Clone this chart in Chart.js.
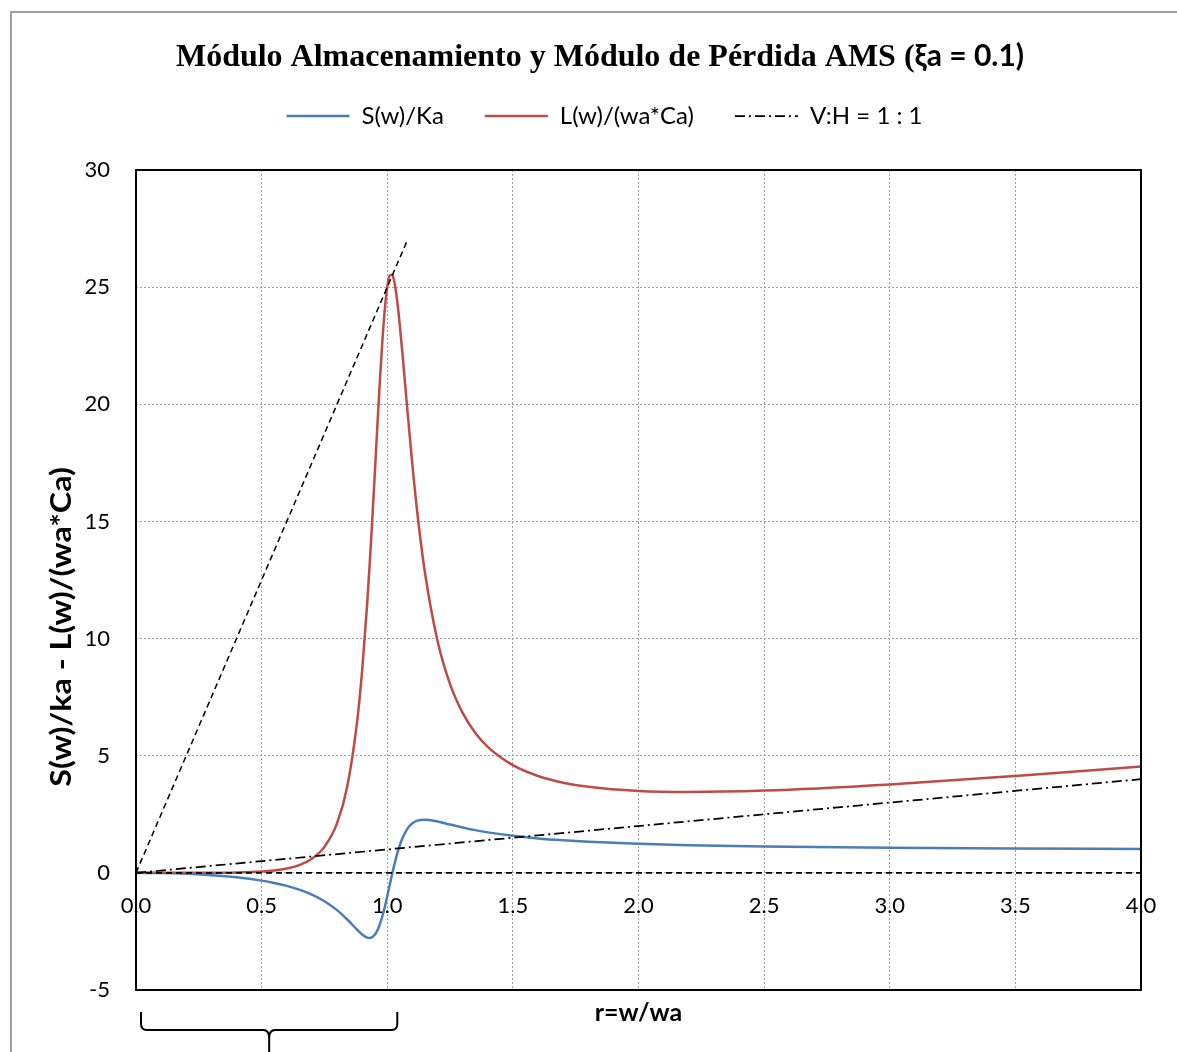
<!DOCTYPE html>
<html>
<head>
<meta charset="utf-8">
<script src="https://cdn.jsdelivr.net/npm/chart.js@4.4.1/dist/chart.umd.min.js"></script>
<style>
  html, body { margin: 0; padding: 0; background: #ffffff; }
  #wrap { width: 1177px; height: 1052px; }
</style>
</head>
<body>
<div id="wrap"><canvas id="chart" width="1177" height="1052"></canvas></div>
<script>
// Frequency ratio r = w/wa
const rValues = [0, 0.1, 0.2, 0.3, 0.4, 0.5, 0.55, 0.6, 0.65, 0.7, 0.75, 0.8, 0.84, 0.88, 0.9,
  0.92, 0.93, 0.94, 0.95, 0.96, 0.97, 0.98, 0.99, 1.0, 1.01, 1.02, 1.03, 1.04, 1.05, 1.06,
  1.08, 1.1, 1.12, 1.15, 1.2, 1.25, 1.3, 1.35, 1.4, 1.5, 1.6, 1.7, 1.8, 2.0, 2.2, 2.5, 3.0, 3.5, 4.0];

// Storage modulus S(w)/Ka
const storageValues = [0, -0.010, -0.042, -0.099, -0.190, -0.332, -0.431, -0.556, -0.717, -0.928, -1.210, -1.590, -1.981, -2.427, -2.630,
  -2.762, -2.777, -2.742, -2.644, -2.470, -2.213, -1.874, -1.463, -1.000, -0.512, -0.029, 0.424, 0.831, 1.179, 1.468,
  1.879, 2.114, 2.230, 2.272, 2.192, 2.062, 1.935, 1.823, 1.728, 1.579, 1.471, 1.391, 1.328, 1.240, 1.181, 1.124, 1.068, 1.037, 1.018];

// Loss modulus L(w)/(wa*Ca)
const lossValues = [0, 0.000, 0.000, 0.003, 0.014, 0.055, 0.101, 0.183, 0.331, 0.601, 1.109, 2.111, 3.640, 6.446, 8.620,
  11.473, 13.164, 15.010, 16.967, 18.957, 20.879, 22.607, 24.015, 25.000, 25.505, 25.529, 25.122, 24.371, 23.373, 22.222,
  19.764, 17.411, 15.339, 12.818, 9.906, 8.054, 6.829, 5.983, 5.378, 4.595, 4.135, 3.850, 3.671, 3.493, 3.450, 3.511, 3.776, 4.134, 4.538];

// Reference lines
const diagonalX = [0, 4];      // V:H = 1 : 1
const diagonalY = [0, 4];
const zeroX = [0, 4];          // horizontal line at zero
const zeroY = [0, 0];
const slopeX = [0, 1.08];      // steep guide through the resonance peak
const slopeY = [0, 27];

// Bracket under the resonance range
const braceSpan = [0.02, 1.04];

const seriesLabels = ['S(w)/Ka', 'L(w)/(wa*Ca)', 'V:H = 1 : 1', 'zero', 'slope'];

const toPoints = (xs, ys) => xs.map((x, i) => ({ x: x, y: ys[i] }));

const FONT = 'Lato, "Open Sans", "DejaVu Sans", sans-serif';

// Extra space between the legend row and the plot
const legendGap = {
  id: 'legendGap',
  beforeLayout(chart) {
    const lg = chart.legend;
    if (lg && !lg.__gapWrapped) {
      const fit = lg.fit.bind(lg);
      lg.fit = function () { fit(); this.height += 32; };
      lg.__gapWrapped = true;
    }
  }
};

const decorations = {
  id: 'decorations',
  beforeDraw(chart) {
    const ctx = chart.ctx;
    ctx.save();
    ctx.fillStyle = '#ffffff';
    ctx.fillRect(0, 0, chart.width, chart.height);
    ctx.strokeStyle = '#a0a0a0';
    ctx.lineWidth = 2;
    ctx.strokeRect(11, 12, 1400, 1400);
    ctx.restore();
  },
  afterDatasetsDraw(chart) {
    const { ctx, chartArea: a } = chart;
    ctx.save();
    ctx.strokeStyle = '#000000';
    ctx.lineWidth = 2;
    ctx.strokeRect(a.left, a.top, a.right - a.left, a.bottom - a.top);
    ctx.restore();
  },
  afterDraw(chart) {
    const { ctx, chartArea: a, scales } = chart;
    ctx.save();
    ctx.fillStyle = '#000000';

    // Title: serif text with the damping ratio in sans
    const part1 = 'Módulo Almacenamiento y Módulo de Pérdida AMS (';
    const part2 = 'ξa = 0.1)';
    const f1 = 'bold 32px "Liberation Serif", "Times New Roman", serif';
    const f2 = 'bold 30px ' + FONT;
    ctx.font = f1; const w1 = ctx.measureText(part1).width;
    ctx.font = f2; const w2 = ctx.measureText(part2).width;
    const tx = 600 - (w1 + w2) / 2;
    ctx.textBaseline = 'alphabetic';
    ctx.textAlign = 'left';
    ctx.font = f1; ctx.fillText(part1, tx, 66);
    ctx.font = f2; ctx.fillText(part2, tx + w1, 66);

    // Axis titles
    ctx.font = 'bold 25px ' + FONT;
    ctx.textAlign = 'center';
    ctx.textBaseline = 'middle';
    ctx.fillText('r=w/wa', (a.left + a.right) / 2, a.bottom + 23);

    ctx.save();
    ctx.translate(62, 627);
    ctx.rotate(-Math.PI / 2);
    ctx.scale(1.15, 1);
    ctx.font = 'bold 28px ' + FONT;
    ctx.fillText('S(w)/ka - L(w)/(wa*Ca)', 0, 0);
    ctx.restore();

    // Curly bracket below the axis
    const xs = scales.x;
    const xl = xs.getPixelForValue(braceSpan[0]);
    const xr = xs.getPixelForValue(braceSpan[1]);
    const xc = (xl + xr) / 2;
    const y0 = a.bottom + 22, y1 = a.bottom + 40, yTip = a.bottom + 70;
    ctx.strokeStyle = '#000000';
    ctx.lineWidth = 2;
    ctx.beginPath();
    ctx.moveTo(xl, y0);
    ctx.lineTo(xl, y1 - 6);
    ctx.quadraticCurveTo(xl, y1, xl + 6, y1);
    ctx.lineTo(xc - 6, y1);
    ctx.quadraticCurveTo(xc, y1, xc, y1 + 8);
    ctx.lineTo(xc, yTip);
    ctx.moveTo(xr, y0);
    ctx.lineTo(xr, y1 - 6);
    ctx.quadraticCurveTo(xr, y1, xr - 6, y1);
    ctx.lineTo(xc + 6, y1);
    ctx.quadraticCurveTo(xc, y1, xc, y1 + 8);
    ctx.stroke();
    ctx.restore();
  }
};

const lineBase = { pointRadius: 0, pointHoverRadius: 0, fill: false };

new Chart(document.getElementById('chart'), {
  type: 'line',
  data: {
    datasets: [
      Object.assign({}, lineBase, {
        label: seriesLabels[0], data: toPoints(rValues, storageValues),
        borderColor: '#4a7ebb', backgroundColor: '#4a7ebb', borderWidth: 2.5,
        cubicInterpolationMode: 'monotone', order: 4
      }),
      Object.assign({}, lineBase, {
        label: seriesLabels[1], data: toPoints(rValues, lossValues),
        borderColor: '#be4b48', backgroundColor: '#be4b48', borderWidth: 2.5,
        cubicInterpolationMode: 'monotone', order: 3
      }),
      Object.assign({}, lineBase, {
        label: seriesLabels[2], data: toPoints(diagonalX, diagonalY),
        borderColor: '#000000', backgroundColor: '#000000', borderWidth: 1.75,
        borderDash: [10, 4, 2, 4], order: 2
      }),
      Object.assign({}, lineBase, {
        label: seriesLabels[3], data: toPoints(zeroX, zeroY),
        borderColor: '#000000', borderWidth: 1.75, borderDash: [6, 4], order: 1
      }),
      Object.assign({}, lineBase, {
        label: seriesLabels[4], data: toPoints(slopeX, slopeY),
        borderColor: '#000000', borderWidth: 1.5, borderDash: [6, 4], order: 0
      })
    ]
  },
  options: {
    responsive: false,
    animation: false,
    devicePixelRatio: 1,
    events: [],
    layout: { padding: { left: 68, right: 36, top: 63, bottom: 62 } },
    plugins: {
      title: { display: false },
      tooltip: { enabled: false },
      legend: {
        display: true,
        position: 'top',
        labels: {
          usePointStyle: true,
          pointStyle: 'line',
          pointStyleWidth: 63,
          padding: 41,
          color: '#000000',
          font: { family: FONT, size: 24 },
          generateLabels: (chart) => {
            const items = Chart.defaults.plugins.legend.labels.generateLabels(chart);
            items.forEach((it) => {
              const ds = chart.data.datasets[it.datasetIndex];
              it.lineWidth = ds.datasetIndex === 2 ? 1.5 : ds.borderWidth;
              it.lineDash = ds.borderDash || [];
              it.strokeStyle = ds.borderColor;
            });
            return items;
          },
          filter: (item) => item.datasetIndex < 3,
          sort: (a, b) => a.datasetIndex - b.datasetIndex
        }
      }
    },
    scales: {
      x: {
        type: 'linear',
        position: { y: 0 },
        min: 0, max: 4,
        ticks: {
          stepSize: 0.5,
          padding: 20,
          color: '#000000',
          font: { family: FONT, size: 22 },
          callback: (v) => Number(v).toFixed(1),
          maxRotation: 0
        },
        grid: { color: '#a0a0a0', lineWidth: 1, drawTicks: false },
        border: { display: false, dash: [2, 2] }
      },
      y: {
        type: 'linear',
        position: 'left',
        min: -5, max: 30,
        ticks: {
          stepSize: 5,
          padding: 26,
          color: '#000000',
          font: { family: FONT, size: 22 }
        },
        grid: { color: '#a0a0a0', lineWidth: 1, drawTicks: false },
        border: { display: false, dash: [2, 2] },
        afterFit: (scale) => { scale.width = 68; }
      }
    }
  },
  plugins: [legendGap, decorations]
});
</script>
</body>
</html>
